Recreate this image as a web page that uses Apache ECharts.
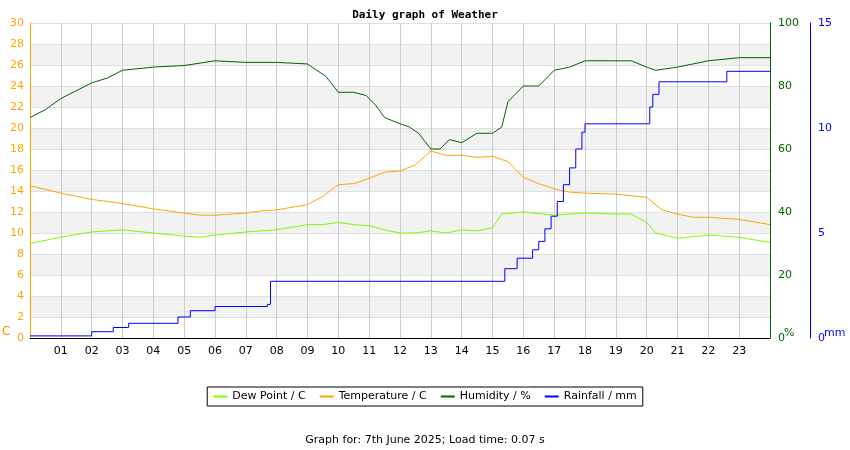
<!DOCTYPE html><html><head><meta charset="utf-8"><script src="https://cdn.jsdelivr.net/npm/echarts@6/dist/echarts.min.js"></script>
<style>body{margin:0}#c{width:850px;height:450px}</style></head><body><div id="c"></div><script>
const tempT=[0,1,2,3,4,5,5.5,6,7,7.5,8,9,9.5,10,10.5,11,11.5,12,12.5,13,13.5,14,14.5,15,15.5,16,16.5,17,17.5,18,19,20,20.5,21,21.5,22,23,24];
const tempV=[14.5,13.8,13.2,12.8,12.3,11.9,11.7,11.7,11.9,12.1,12.2,12.7,13.5,14.6,14.7,15.2,15.8,15.9,16.5,17.8,17.4,17.4,17.2,17.3,16.8,15.3,14.7,14.2,13.9,13.8,13.7,13.4,12.2,11.8,11.5,11.5,11.3,10.8];
const dewT=[0,1,2,3,4,5,5.5,6,7,8,9,9.5,10,10.5,11,11.5,12,12.5,13,13.5,14,14.5,15,15.3,16,17,18,19,19.5,20,20.3,21,22,23,24];
const dewV=[9,9.6,10.1,10.3,10,9.7,9.6,9.8,10.1,10.3,10.8,10.8,11,10.8,10.7,10.3,10,10,10.2,10,10.3,10.2,10.5,11.8,12,11.7,11.9,11.8,11.8,11,10,9.5,9.8,9.6,9.1];
const humT=[0,0.5,1,1.5,2,2.5,3,4,5,6,7,8,9,9.3,9.6,10,10.5,10.9,11.2,11.5,12,12.3,12.6,13,13.3,13.6,14,14.5,15,15.3,15.5,15.8,16,16.5,17,17.5,18,19,19.5,20,20.3,21,22,23,24];
const humV=[70,72.5,76,78.5,81,82.5,85,86,86.5,88,87.5,87.5,87,85,83,78,78,77,74,70,68,67,65,60,60,63,62,65,65,67,75,78,80,80,85,86,88,88,88,86,85,86,88,89,89];
const rainT=[0,2,2.7,3.2,4.8,5.2,6,7.7,7.8,15.4,15.8,16.3,16.5,16.7,16.9,17.1,17.3,17.5,17.7,17.9,18,20,20.1,20.2,20.4,22.6,24];
const rainV=[0.1,0.3,0.5,0.7,1.0,1.3,1.5,1.6,2.7,3.3,3.8,4.2,4.6,5.2,5.8,6.5,7.3,8.1,9.0,9.8,10.2,10.2,11,11.6,12.2,12.7,12.7];
const xLabels=['','01','02','03','04','05','06','07','08','09','10','11','12','13','14','15','16','17','18','19','20','21','22','23',''];
const z=(t,v)=>t.map((x,i)=>[x,v[i]]);
const f='DejaVu Sans';
const ch=echarts.init(document.getElementById('c'));
ch.setOption({animation:false,
title:[{text:'Daily graph of Weather',left:'center',top:5,textStyle:{fontFamily:'DejaVu Sans Mono',fontSize:11,fontWeight:'bold',color:'#000'}},
{text:'Graph for: 7th June 2025; Load time: 0.07 s',left:'center',top:430,textStyle:{fontFamily:f,fontSize:11,fontWeight:'normal',color:'#000'}}],
graphic:[{type:'text',left:2,top:326,style:{text:'C',fill:'#ff8c00',font:'12px DejaVu Sans'}},
{type:'text',left:784,top:328,style:{text:'%',fill:'#006400',font:'11px DejaVu Sans'}},
{type:'text',left:824,top:328,style:{text:'mm',fill:'#0000ff',font:'11px DejaVu Sans'}}],
grid:{left:30,right:80,top:23,bottom:112},
legend:{bottom:44,left:'center',itemWidth:14,itemHeight:2,icon:'rect',borderColor:'#000',borderWidth:1,padding:[4,6],itemGap:14,textStyle:{fontFamily:f,fontSize:11,color:'#000'},data:['Dew Point / C','Temperature / C','Humidity / %','Rainfall / mm']},
xAxis:{type:'value',min:0,max:24,interval:1,axisLine:{lineStyle:{color:'#000'}},axisTick:{show:false},splitLine:{lineStyle:{color:'#ccc'}},axisLabel:{fontFamily:f,fontSize:11,color:'#000',formatter:v=>xLabels[v]}},
yAxis:[{type:'value',min:0,max:30,interval:2,position:'left',axisLine:{show:true,lineStyle:{color:'#ffa500'}},axisTick:{show:false},axisLabel:{color:'#ffa500',fontFamily:f,fontSize:11,margin:6},splitLine:{lineStyle:{color:'#e0e0e0'}},splitArea:{show:true,areaStyle:{color:['#fff','#f2f2f2']}}},
{type:'value',min:0,max:100,interval:20,position:'right',axisLine:{show:true,lineStyle:{color:'#006400'}},axisTick:{show:false},axisLabel:{color:'#006400',fontFamily:f,fontSize:11},splitLine:{show:false}},
{type:'value',min:0,max:15,interval:5,position:'right',offset:40,axisLine:{show:true,lineStyle:{color:'#0000ff'}},axisTick:{show:false},axisLabel:{color:'#0000ff',fontFamily:f,fontSize:11},splitLine:{show:false}}],
series:[
{name:'Dew Point / C',type:'line',yAxisIndex:0,data:z(dewT,dewV),showSymbol:false,itemStyle:{color:'#7cfc00'},lineStyle:{width:1}},
{name:'Temperature / C',type:'line',yAxisIndex:0,data:z(tempT,tempV),showSymbol:false,itemStyle:{color:'#ffa500'},lineStyle:{width:1}},
{name:'Humidity / %',type:'line',yAxisIndex:1,data:z(humT,humV),showSymbol:false,itemStyle:{color:'#006400'},lineStyle:{width:1}},
{name:'Rainfall / mm',type:'line',yAxisIndex:2,step:'end',data:z(rainT,rainV),showSymbol:false,itemStyle:{color:'#0000ff'},lineStyle:{width:1}}]});
</script></body></html>
